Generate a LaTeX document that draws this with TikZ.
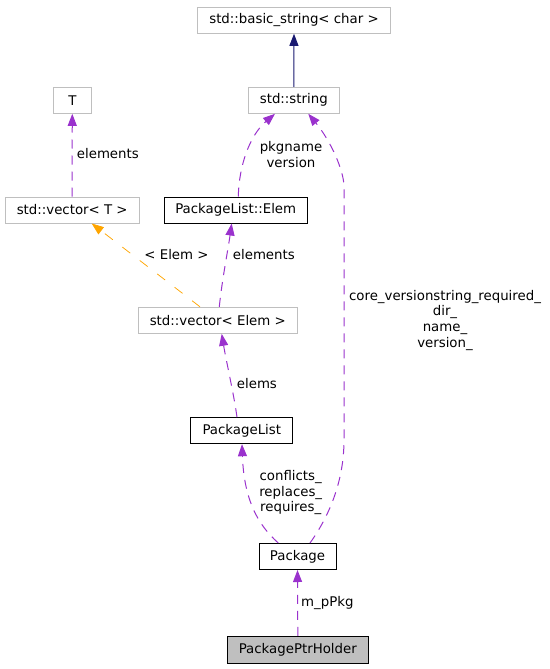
\documentclass[tikz,border=0pt]{standalone}
\usepackage{fontspec}
\setmainfont{DejaVu Sans}
\usetikzlibrary{arrows.meta}
\definecolor{edgepurple}{HTML}{9A32CD}
\definecolor{edgeorange}{HTML}{FFA500}
\definecolor{edgenavy}{HTML}{191970}
\definecolor{boxgray}{HTML}{BFBFBF}
\begin{document}
\begin{tikzpicture}[x=1pt,y=-1pt,
  every node/.style={font=\fontsize{13.33}{15.6}\selectfont, inner sep=0pt, text=black},
  extbox/.style={draw=boxgray, line width=1pt, minimum height=26pt},
  clsbox/.style={draw=black, line width=1pt, minimum height=26pt},
  mainbox/.style={draw=black, fill=boxgray, line width=1pt, minimum height=26.7pt},
  uses/.style={draw=edgepurple, line width=1pt, dash pattern=on 9pt off 7pt,
    -{Triangle[length=12pt,width=9pt,color=edgepurple]}},
  tmpl/.style={draw=edgeorange, line width=0.75pt, dash pattern=on 10pt off 12pt,
    -{Triangle[length=12pt,width=9pt,color=edgeorange]}},
  inherit/.style={draw=edgenavy, line width=1pt,
    -{Triangle[length=12pt,width=9pt,color=edgenavy]}},
  lbl/.style={align=center},
  lbll/.style={anchor=west}
]
\useasboundingbox (0,0) rectangle (549,669);

% nodes
\node[extbox, minimum width=193pt] (bstr) at (294,20.3) {std::basic\_string< char >};
\node[extbox, minimum width=91pt] (str) at (293.8,100.3) {std::string};
\node[extbox, minimum width=38.4pt] (T) at (72.5,100.3) {T};
\node[extbox, minimum width=134.3pt] (vecT) at (72.2,210) {std::vector< T >};
\node[clsbox, minimum width=142.7pt] (elem) at (235.7,210) {PackageList::Elem};
\node[extbox, minimum width=159pt] (vecE) at (217.8,320.3) {std::vector< Elem >};
\node[clsbox, minimum width=101.7pt] (plist) at (241.8,430.7) {PackageList};
\node[clsbox, minimum width=77pt] (pkg) at (297.5,556.5) {Package};
\node[mainbox, minimum width=141pt] (holder) at (297.8,649.7) {PackagePtrHolder};

% edges
\draw[inherit] (str.north) -- (bstr.south);

\draw[uses] ([xshift=-0.2pt]vecT.north) -- ([xshift=-0.2pt]T.south);
\node[lbll] (lT) at (76.7,154) {elements};

\draw[uses] ([xshift=2.6pt]elem.north) .. controls (239,165) and (250,135) .. ([xshift=-18.8pt]str.south);
\node[lbl] (lstr1) at (291,154.7) {pkgname\\version};

\draw[uses] ([xshift=12.5pt]pkg.north) .. controls (330,515) and (344,480) .. (344,440)
  -- (344,187) .. controls (344,170) and (330,140) .. ([xshift=14.5pt]str.south);
\node[lbl] (lstr2) at (445,320.2) {core\_versionstring\_required\_\\dir\_\\name\_\\version\_};

\draw[tmpl] ([xshift=-17.8pt]vecE.north) -- ([xshift=19.5pt]vecT.south);
\node[lbl] (lvecT) at (176.5,255) {< Elem >};

\draw[uses] ([xshift=1.5pt]vecE.north) .. controls (222,280) and (228,250) .. ([xshift=-4pt]elem.south);
\node[lbll] (lelem) at (232.7,255) {elements};

\draw[uses] ([xshift=-4.8pt]plist.north) .. controls (234,395) and (226,360) .. ([xshift=3.9pt]vecE.south);
\node[lbll] (lvecE) at (236.7,383.3) {elems};

\draw[uses] ([xshift=-19.2pt]pkg.north) .. controls (258,525) and (244,500) .. ([xshift=0.2pt]plist.south);
\node[lbl] (lplist) at (290.7,492.8) {conflicts\_\\replaces\_\\requires\_};

\draw[uses] (holder.north) -- (pkg.south);
\node[lbll] (lpkg) at (301,602.7) {m\_pPkg};
\end{tikzpicture}
\end{document}
